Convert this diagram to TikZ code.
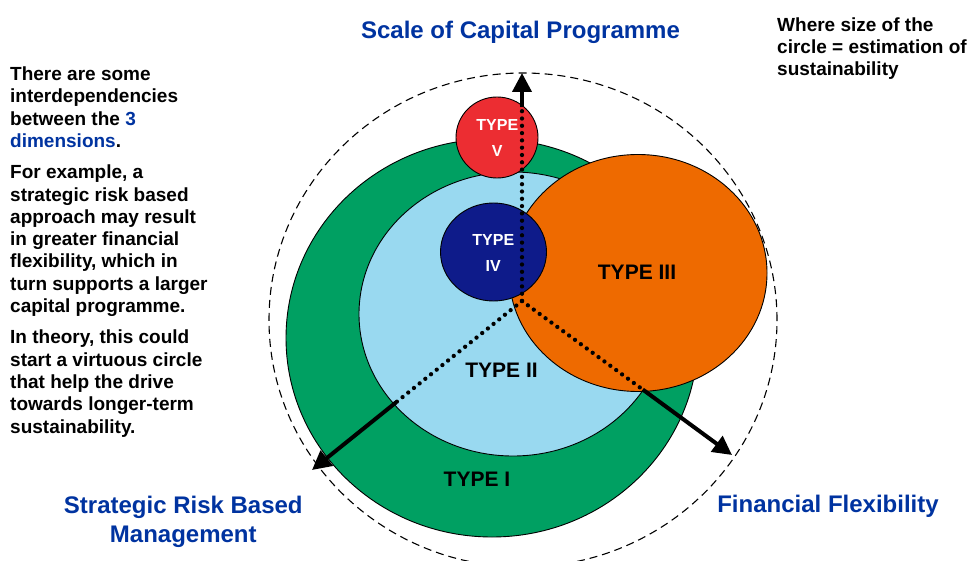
\documentclass[tikz,border=0pt]{standalone}
\usepackage{fontspec}
\setmainfont{Liberation Sans}
\usetikzlibrary{arrows.meta,calc}
\definecolor{ringgreen}{RGB}{0,160,98}
\definecolor{paleblue}{RGB}{153,217,240}
\definecolor{typeorange}{RGB}{238,106,0}
\definecolor{typenavy}{RGB}{14,27,138}
\definecolor{typered}{RGB}{236,45,50}
\definecolor{headblue}{RGB}{0,51,160}
\begin{document}
  \begin{tikzpicture}[x=1pt,y=-1pt,
      typ/.style={font=\fontsize{21}{21}\selectfont\bfseries,anchor=base,inner sep=0pt},
      small/.style={font=\fontsize{16}{25.7}\selectfont\bfseries,text=white,align=center,anchor=base,inner sep=0pt},
      dim/.style={font=\fontsize{24}{29}\selectfont\bfseries,text=headblue,align=center,anchor=base,inner sep=0pt},
      note/.style={font=\fontsize{19}{22.3}\selectfont\bfseries,align=left,anchor=base west,inner sep=0pt},
      blob/.style={draw=black,line width=0.9pt},
      axis/.style={line width=4pt,-{Triangle[length=19pt,width=19pt]}},
      dots/.style={line width=4.3pt,line cap=round,dash pattern=on 0pt off 7.3pt}]
    \useasboundingbox (0,0) rectangle (968,561);
    % circles
    \draw[line width=1.1pt,dash pattern=on 8pt off 5pt] (523,320) ellipse [x radius=254pt,y radius=247pt];
    \filldraw[blob,fill=ringgreen] (492,338) ellipse [x radius=206pt,y radius=199pt];
    \filldraw[blob,fill=paleblue] (513,314) ellipse [x radius=154pt,y radius=142pt];
    \filldraw[blob,fill=typeorange] (638,273) ellipse [x radius=129pt,y radius=118.5pt];
    \filldraw[blob,fill=typenavy] (493.5,252) ellipse [x radius=53pt,y radius=49pt];
    \filldraw[blob,fill=typered] (497,137.5) ellipse [x radius=41pt,y radius=40.5pt];
    % the three axes
    \coordinate (o) at (522,301);
    \coordinate (up) at (522,73);
    \coordinate (left) at (312,470);
    \coordinate (right) at (732,455);
    \draw[dots] (o) -- ($(o)!0.85!(up)$);
    \draw[axis] ($(o)!0.85!(up)$) -- (up);
    \draw[dots] (o) -- ($(o)!0.6!(left)$);
    \draw[axis] ($(o)!0.6!(left)$) -- (left);
    \draw[dots] (o) -- ($(o)!0.575!(right)$);
    \draw[axis] ($(o)!0.575!(right)$) -- (right);
    % labels (base = last line)
    \node[typ] (t1) at (477,486.7) {TYPE I};
    \node[typ] (t2) at (501.5,377.3) {TYPE II};
    \node[typ] (t3) at (637,279.3) {TYPE III};
    \node[small] (t4) at (493.3,271.7) {TYPE\\IV};
    \node[small] (t5) at (497.3,156.7) {TYPE\\V};
    \node[dim] (scale) at (520.5,38.3) {Scale of Capital Programme};
    \node[dim] (risk) at (183.3,542.3) {Strategic Risk Based\\Management};
    \node[dim] (flex) at (828,512.3) {Financial Flexibility};
    \node[note] (where) at (777,76) {Where size of the\\circle = estimation of\\sustainability};
    \node[note] (why) at (10,433) {There are some\\interdependencies\\between the {\color{headblue}3}\\{\color{headblue}dimensions}.\\[9pt]
      For example, a\\strategic risk based\\approach may result\\in greater financial\\flexibility, which in\\turn supports a larger\\capital programme.\\[9pt]
      In theory, this could\\start a virtuous circle\\that help the drive\\towards longer-term\\sustainability.};
  \end{tikzpicture}
\end{document}
